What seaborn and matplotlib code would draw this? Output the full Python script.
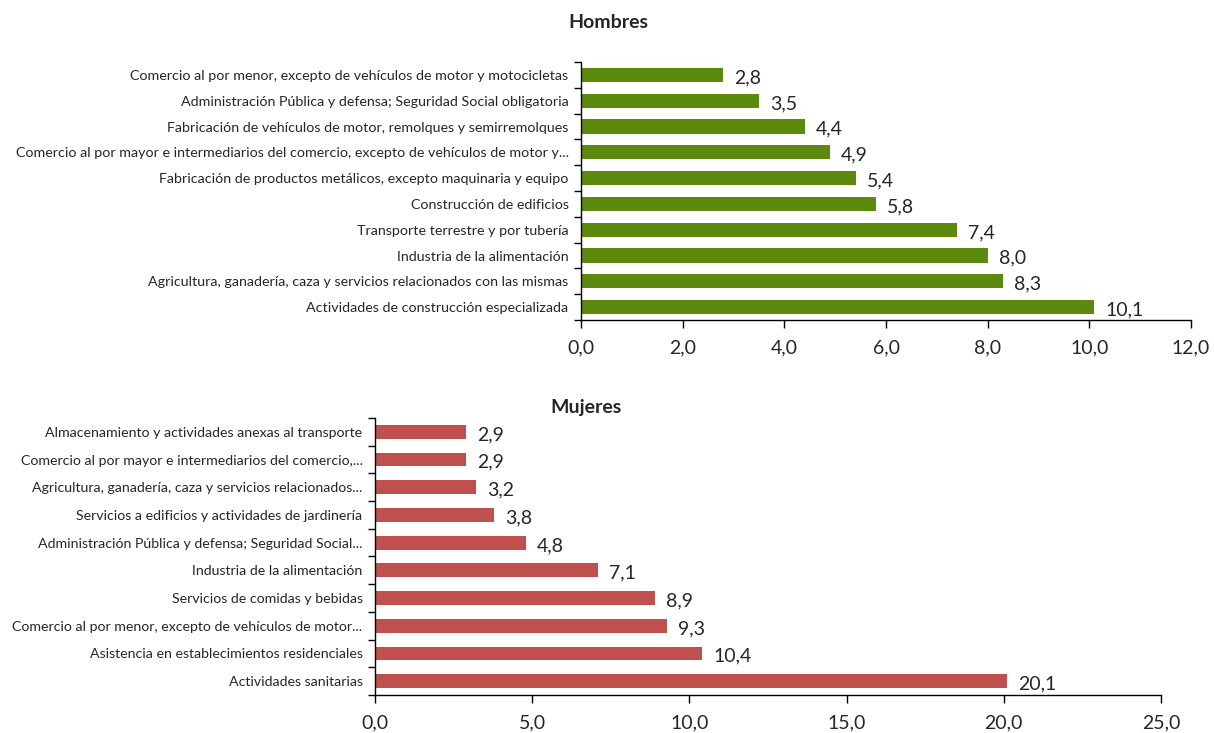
import matplotlib
matplotlib.use("Agg")
import matplotlib.pyplot as plt
import matplotlib.ticker as mticker
import seaborn as sns
import pandas as pd
import numpy as np

hombres_cat = [
    "Comercio al por menor, excepto de vehículos de motor y motocicletas",
    "Administración Pública y defensa; Seguridad Social obligatoria",
    "Fabricación de vehículos de motor, remolques y semirremolques",
    "Comercio al por mayor e intermediarios del comercio, excepto de vehículos de motor y...",
    "Fabricación de productos metálicos, excepto maquinaria y equipo",
    "Construcción de edificios",
    "Transporte terrestre y por tubería",
    "Industria de la alimentación",
    "Agricultura, ganadería, caza y servicios relacionados con las mismas",
    "Actividades de construcción especializada",
]
hombres_val = [2.8, 3.5, 4.4, 4.9, 5.4, 5.8, 7.4, 8.0, 8.3, 10.1]

mujeres_cat = [
    "Almacenamiento y actividades anexas al transporte",
    "Comercio al por mayor e intermediarios del comercio,...",
    "Agricultura, ganadería, caza y servicios relacionados...",
    "Servicios a edificios y actividades de jardinería",
    "Administración Pública y defensa; Seguridad Social...",
    "Industria de la alimentación",
    "Servicios de comidas y bebidas",
    "Comercio al por menor, excepto de vehículos de motor...",
    "Asistencia en establecimientos residenciales",
    "Actividades sanitarias",
]
mujeres_val = [2.9, 2.9, 3.2, 3.8, 4.8, 7.1, 8.9, 9.3, 10.4, 20.1]

hombres_ticks = [0, 2, 4, 6, 8, 10, 12]
mujeres_ticks = [0, 5, 10, 15, 20, 25]

sns.set_theme(style="white")
plt.rcParams['font.family'] = ['Lato', 'DejaVu Sans']

fig = plt.figure(figsize=(12.14, 7.33), dpi=100)
ax1 = fig.add_axes([0.4786, 0.5634, 0.5025, 0.352])
ax2 = fig.add_axes([0.3089, 0.0518, 0.6474, 0.378])

fmt = mticker.FuncFormatter(lambda v, p: f"{v:.1f}".replace(".", ","))

def draw(ax, cats, vals, color, ticks, width, ylabsize):
    df = pd.DataFrame({"cat": cats, "val": vals})
    sns.barplot(data=df, x="val", y="cat", color=color, saturation=1,
                width=width, ax=ax, orient="h")
    for p in ax.patches:
        p.set_edgecolor("none")
    ax.set_xlim(ticks[0], ticks[-1])
    ax.set_ylim(len(cats) - 0.5, -0.5)
    ax.set_xticks(ticks)
    ax.xaxis.set_major_formatter(fmt)
    ax.set_xlabel("")
    ax.set_ylabel("")
    ax.set_yticks(np.arange(len(cats)))
    ax.set_yticklabels(cats)
    ax.set_yticks(np.arange(len(cats) + 1) - 0.5, minor=True)
    ax.tick_params(axis="y", which="major", length=0, pad=9, labelsize=ylabsize)
    ax.tick_params(axis="y", which="minor", length=5, width=1, color="black",
                   direction="out", left=True)
    ax.tick_params(axis="x", which="major", length=6, width=1, color="black",
                   direction="out", bottom=True, labelsize=14, pad=8)
    for s in ["top", "right"]:
        ax.spines[s].set_visible(False)
    for s in ["left", "bottom"]:
        ax.spines[s].set_visible(True)
        ax.spines[s].set_color("black")
        ax.spines[s].set_linewidth(1)
    for i, v in enumerate(vals):
        ax.annotate(f"{v:.1f}".replace(".", ","), xy=(v, i), xytext=(8, -2),
                    textcoords="offset points", va="center", ha="left",
                    fontsize=14)

draw(ax1, hombres_cat, hombres_val, "#5b8a0c", hombres_ticks, 0.55, 10.3)
draw(ax2, mujeres_cat, mujeres_val, "#c0504d", mujeres_ticks, 0.5, 10.2)

fig.text(608 / 1214, 1 - 22 / 733, "Hombres", ha="center", va="center",
         fontsize=14, fontweight="bold")
fig.text(586 / 1214, 1 - 408 / 733, "Mujeres", ha="center", va="center",
         fontsize=14, fontweight="bold")

fig.savefig("out.png", dpi=100, facecolor="white")
